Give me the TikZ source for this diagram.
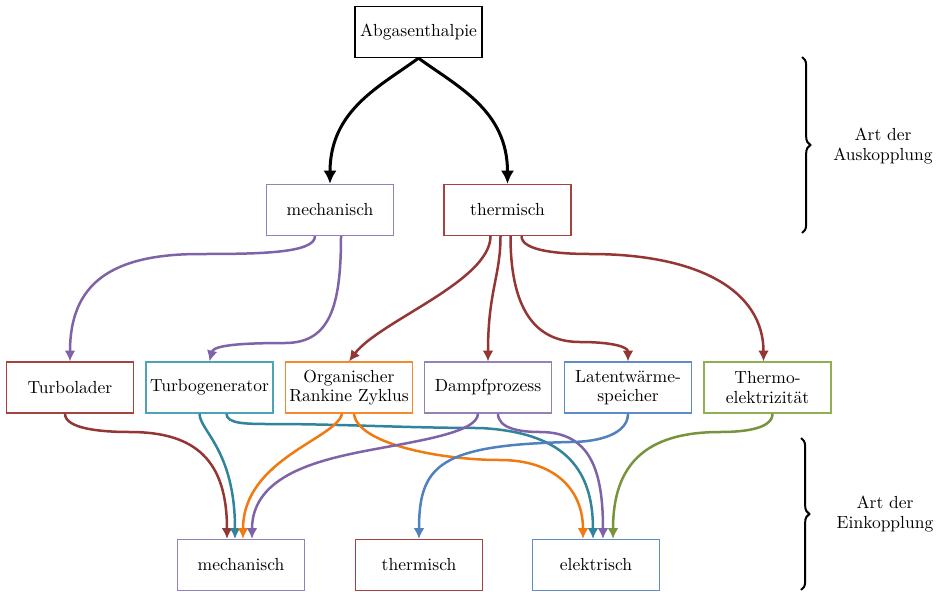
\documentclass[tikz,border=0pt]{standalone}
\usetikzlibrary{arrows.meta,calc,decorations.pathreplacing}
\definecolor{cPurple}{HTML}{7F63A8}
\definecolor{cRed}{HTML}{943634}
\definecolor{cTeal}{HTML}{31849B}
\definecolor{cOrange}{HTML}{F07A10}
\definecolor{cBlue}{HTML}{4F81BD}
\definecolor{cGreen}{HTML}{77933C}
\definecolor{bPurple}{HTML}{9580B8}
\definecolor{bRed}{HTML}{A5433F}
\definecolor{bTeal}{HTML}{4FA3B8}
\definecolor{bOrange}{HTML}{F58A2C}
\definecolor{bBlue}{HTML}{5F8CC4}
\definecolor{bGreen}{HTML}{8FAF55}
\tikzset{
  box/.style={draw, rectangle, line width=0.75pt, minimum width=76.2pt, minimum height=30.6pt,
    align=center, inner sep=2pt, font=\fontsize{10.5}{11.6}\selectfont},
  conn/.style={line width=1.5pt, -{Latex[length=6.5pt,width=6.5pt]}},
  topconn/.style={line width=1.8pt, black, -{Latex[length=8pt,width=8pt]}},
  bracestyle/.style={decorate, decoration={brace, amplitude=5pt}, line width=1.2pt},
  lbl/.style={align=center, font=\fontsize{10.5}{11.6}\selectfont}
}
\begin{document}
\begin{tikzpicture}[x=0.6pt,y=0.6pt]
\useasboundingbox (0,0) rectangle (939,-591);
% nodes
\node[box, draw=black] (abg) at (418.5,-32) {Abgasenthalpie};
\node[box, draw=bPurple] (mechT) at (330,-210) {mechanisch};
\node[box, draw=bRed] (thermT) at (507.5,-210) {thermisch};
\node[box, draw=bRed] (turbo) at (70,-387.5) {Turbolader};
\node[box, draw=bTeal] (tgen) at (209.5,-387.5) {Turbogenerator};
\node[box, draw=bOrange] (orc) at (349,-387.5) {Organischer\\Rankine Zyklus};
\node[box, draw=bPurple] (dampf) at (488,-387.5) {Dampfprozess};
\node[box, draw=bBlue] (latent) at (628,-387.5) {Latentwärme-\\speicher};
\node[box, draw=bGreen] (thermo) at (767.5,-387.5) {Thermo-\\elektrizität};
\node[box, draw=bPurple] (mechB) at (241,-565) {mechanisch};
\node[box, draw=bRed] (thermB) at (419,-565) {thermisch};
\node[box, draw=bBlue] (elekB) at (596,-565) {elektrisch};
% braces and labels
\coordinate (b1t) at (802,-57);
\coordinate (b1b) at (802,-233);
\coordinate (b2t) at (801,-438);
\coordinate (b2b) at (801,-590);
\draw[bracestyle] (b1t) -- (b1b);
\draw[bracestyle] (b2t) -- (b2b);
\node[lbl] (ausk) at (883,-146) {Art der\\Auskopplung};
\node[lbl] (eink) at (885,-514) {Art der\\Einkopplung};
% top arrows
\draw[topconn] (abg.south) .. controls +(-38,-28) and +(0,74) .. (mechT.north);
\draw[topconn] (abg.south) .. controls +(38,-28) and +(0,74) .. (thermT.north);
% mechanisch -> row 3
\draw[conn, cPurple] ($(mechT.south)+(-15,0)$) .. controls +(0,-17) and +(60,0) .. (200,-254)
   .. controls +(-90,0) and +(0,77) .. (turbo.north);
\draw[conn, cPurple] ($(mechT.south)+(11,0)$) .. controls +(0,-70) and +(45,0) .. (285,-343)
   .. controls +(-45,0) and +(4,16) .. (tgen.north);
% thermisch -> row 3
\draw[conn, cRed] ($(thermT.south)+(-17,0)$) .. controls +(0,-45) and +(30,40) .. (orc.north);
\draw[conn, cRed] ($(thermT.south)+(-7,0)$) .. controls +(0,-40) and +(0,70) .. (dampf.north);
\draw[conn, cRed] ($(thermT.south)+(3,0)$) .. controls +(0,-80) and +(-40,0) .. (580,-342)
   .. controls +(30,0) and +(0,15) .. (latent.north);
\draw[conn, cRed] ($(thermT.south)+(14,0)$) .. controls +(0,-15) and +(-30,0) .. (590,-254)
   .. controls +(110,0) and +(0,70) .. ($(thermo.north)+(-4,0)$);
% row 3 -> bottom
\draw[conn, cRed] ($(turbo.south)+(-5,0)$) .. controls +(0,-15) and +(-30,0) .. (130,-432)
   .. controls +(65,0) and +(0,79) .. ($(mechB.north)+(-14,0)$);
\draw[conn, cTeal] ($(tgen.south)+(-10,0)$) .. controls +(0,-17) and +(0,89) .. ($(mechB.north)+(-6,0)$);
\draw[conn, cTeal] ($(tgen.south)+(17,0)$) .. controls +(0,-10) and +(-25,0) .. (270,-424)
   .. controls +(70,0) and +(-70,0) .. (480,-428)
   .. controls +(80,-4) and +(0,74) .. ($(elekB.north)+(-3,0)$);
\draw[conn, cOrange] ($(orc.south)+(-7,0)$) .. controls +(-5,-25) and +(0,80) .. ($(mechB.north)+(2,0)$);
\draw[conn, cOrange] ($(orc.south)+(5,0)$) .. controls +(3,-30) and +(-60,0) .. (500,-460)
   .. controls +(55,0) and +(0,49) .. ($(elekB.north)+(-13,0)$);
\draw[conn, cPurple] ($(dampf.south)+(-10,0)$) .. controls +(0,-20) and +(50,10) .. (360,-452)
   .. controls +(-50,-10) and +(0,60) .. ($(mechB.north)+(11,0)$);
\draw[conn, cPurple] ($(dampf.south)+(10,0)$) .. controls +(0,-15) and +(-20,0) .. (540,-432)
   .. controls +(50,0) and +(0,69) .. ($(elekB.north)+(7,0)$);
\draw[conn, cBlue] (latent.south) .. controls +(0,-20) and +(30,0) .. (570,-442)
   .. controls +(-130,-3) and +(0,74) .. (thermB.north);
\draw[conn, cGreen] ($(thermo.south)+(5,0)$) .. controls +(0,-15) and +(25,0) .. (720,-432)
   .. controls +(-75,0) and +(0,74) .. ($(elekB.north)+(17,0)$);
\end{tikzpicture}
\end{document}
